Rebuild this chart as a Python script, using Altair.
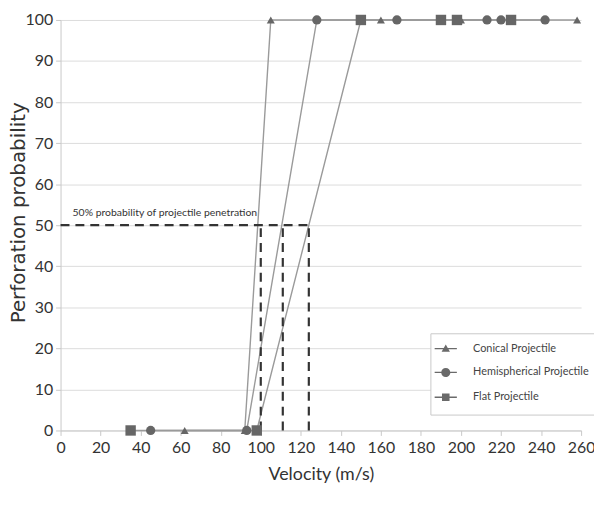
import altair as alt
import pandas as pd

# ---- data ----
conical_v = [62, 92, 105, 160, 200, 258]
conical_p = [0, 0, 100, 100, 100, 100]
hemi_v = [45, 93, 128, 168, 213, 220, 242]
hemi_p = [0, 0, 100, 100, 100, 100, 100]
flat_v = [35, 98, 150, 190, 198, 225]
flat_p = [0, 0, 100, 100, 100, 100]
series_names = ["Conical Projectile", "Hemispherical Projectile", "Flat Projectile"]

dash_x = [0, 100, 111, 124]
dash_x2 = [124, 100, 111, 124]
dash_y = [50, 0, 0, 0]
dash_y2 = [50, 50, 50, 50]

annot_x = [6]
annot_y = [53]
annot_text = ["50% probability of projectile penetration"]

x_ticks = list(range(0, 261, 5))
y_ticks = list(range(0, 101, 5))

rows = []
for name, vs, ps in zip(series_names, [conical_v, hemi_v, flat_v], [conical_p, hemi_p, flat_p]):
    for v, p in zip(vs, ps):
        rows.append({"series": name, "v": v, "p": p})
df = pd.DataFrame(rows)
dash_df = pd.DataFrame({"x": dash_x, "x2": dash_x2, "y": dash_y, "y2": dash_y2})
annot_df = pd.DataFrame({"x": annot_x, "y": annot_y, "t": annot_text})

FONT = "Lato"

xscale = alt.Scale(domain=[0, 260], nice=False, zero=False)
yscale = alt.Scale(domain=[0, 100], nice=False)

xaxis = alt.Axis(
    title="Velocity (m/s)", values=x_ticks,
    labelExpr="datum.value % 20 === 0 ? datum.label : ''",
    grid=False, tickSize=5, tickColor="#c8c8c8", domainColor="#c8c8c8",
    labelFont=FONT, labelFontSize=16, labelColor="#333", labelPadding=4,
    titleFont=FONT, titleFontSize=18, titleColor="#333", titleFontWeight="normal",
    titlePadding=10, labelFlush=False,
)
yaxis = alt.Axis(
    title="Perforation probability", values=y_ticks,
    labelExpr="datum.value % 10 === 0 ? datum.label : ''",
    grid=True, gridColor="#dcdcdc",
    gridOpacity={"condition": {"test": "datum.value % 10 === 0", "value": 1}, "value": 0},
    tickSize=5, tickColor="#c8c8c8", domainColor="#c8c8c8",
    labelFont=FONT, labelFontSize=16, labelColor="#333", labelPadding=3,
    titleFont="DejaVu Sans", titleFontSize=20, titleColor="#333", titleFontWeight="normal",
    titleX=-42, titleY=194, titleAngle=270, titleAlign="center", titleBaseline="middle",
)

base = alt.Chart(df)

lines = base.mark_line(color="#9a9a9a", strokeWidth=1.4).encode(
    x=alt.X("v:Q", scale=xscale, axis=xaxis),
    y=alt.Y("p:Q", scale=yscale, axis=yaxis),
    detail="series:N",
    order="v:Q",
)

dashes = alt.Chart(dash_df).mark_rule(color="#333", strokeWidth=2.2, strokeDash=[9, 6]).encode(
    x="x:Q", x2="x2:Q", y="y:Q", y2="y2:Q"
)

shape_scale = alt.Scale(domain=series_names, range=["triangle-up", "circle", "square"])
points = base.mark_point(filled=True, color="#666666", opacity=1).encode(
    x="v:Q", y="p:Q",
    shape=alt.Shape("series:N", scale=shape_scale, legend=None),
    size=alt.Size("series:N", scale=alt.Scale(domain=series_names, range=[65, 110, 85]), legend=None),
)

bar = "M-2.8,-0.16L2.8,-0.16L2.8,0.16L-2.8,0.16Z"
leg_paths = [
    bar + "M0,-1.05L1.05,0.8L-1.05,0.8Z",
    bar + "M1.15,0A1.15,1.15,0,1,1,-1.15,0A1.15,1.15,0,1,1,1.15,0Z",
    bar + "M-0.95,-0.95L0.95,-0.95L0.95,0.95L-0.95,0.95Z",
]
legend_layer = base.transform_filter("datum.p > 1000").mark_point(filled=True, color="#6a6a6a").encode(
    x="v:Q", y="p:Q",
    shape=alt.Shape(
        "series:N",
        scale=alt.Scale(domain=series_names, range=leg_paths),
        legend=alt.Legend(
            title=None, orient="none", legendX=373, legendY=316,
            symbolSize=64, symbolFillColor="#6a6a6a", symbolOpacity=1,
            labelFont=FONT, labelFontSize=11, labelColor="#444", labelOffset=22,
            rowPadding=9, padding=10, strokeColor="#c8c8c8", fillColor="white",
        ),
    ),
)

annot = alt.Chart(annot_df).mark_text(
    align="left", baseline="middle", font=FONT, fontSize=10.5, color="#333"
).encode(x="x:Q", y="y:Q", text="t:N")

chart = (
    alt.layer(lines, dashes, points, legend_layer, annot)
    .resolve_scale(shape="independent", size="independent")
    .properties(
        width=525, height=414,
        autosize=alt.AutoSizeParams(type="none"),
        padding={"left": 53, "top": 10, "right": 13, "bottom": 60},
        background="white",
    )
    .configure_view(stroke=None)
)

chart.save("out.html", embed_options={"renderer": "svg", "actions": False})
